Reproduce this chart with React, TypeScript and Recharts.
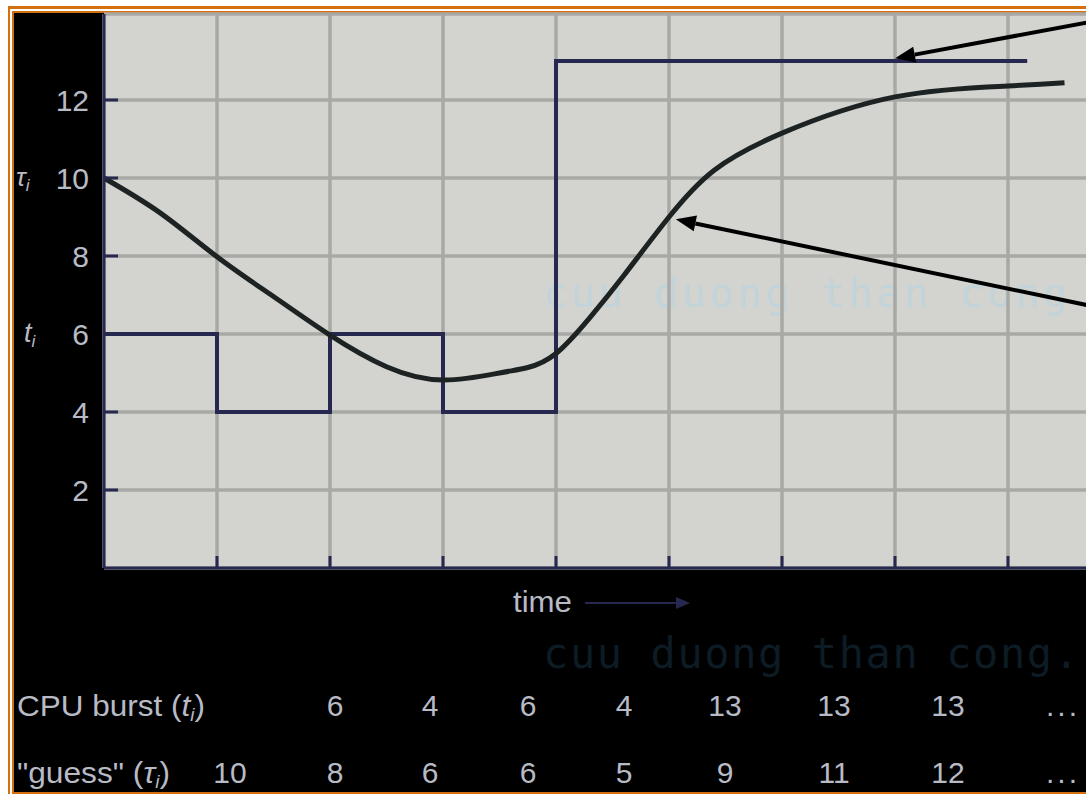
import React from 'react';
import {
  ComposedChart,
  Line,
  XAxis,
  YAxis,
  CartesianGrid,
  ReferenceLine,
} from 'recharts';

// values
const cpuBursts = [6, 4, 6, 4, 13, 13, 13];
const guesses = [10, 8, 6, 6, 5, 9, 11, 12];
const burstLineEnd = 8.17; // where the last 13-step stops

// smooth "guess" curve
const curveX = [0, 0.5, 1, 1.5, 2, 2.5, 3, 3.5, 3.75, 4, 4.3, 4.6, 5, 5.4, 6, 7, 8, 8.5];
const curveY = [10, 9.1, 7.98, 6.96, 5.97, 5.16, 4.82, 5.0, 5.14, 5.5, 6.42, 7.5, 9.0, 10.2, 11.15, 12.08, 12.36, 12.44];

const yTicks = [2, 4, 6, 8, 10, 12];
const xTicks = [0, 1, 2, 3, 4, 5, 6, 7, 8];

// layout
const W = 1086;
const H = 794;
const CHART_W = 1100;
const PLOT_LEFT = 104;
const PLOT_TOP = 14;
const PLOT_BOTTOM = 568;
const X_UNIT = 113;
const Y_UNIT = 39;
const X_MAX = (CHART_W - PLOT_LEFT) / X_UNIT;
const Y_MAX = (PLOT_BOTTOM - PLOT_TOP) / Y_UNIT;
const tableCols = [230, 335, 430, 528, 624, 725, 834, 948];
const dotsX = 1046;
const cpuRowY = 716;
const guessRowY = 783;

const ORANGE = '#d5700e';
const NAVY = '#26284f';
const TEXT = '#b8bbc6';
const FONT = '"Liberation Sans", Arial, sans-serif';
const MONO = '"DejaVu Sans Mono", monospace';

const stepData = [
  ...cpuBursts.map((v, i) => ({ x: i, y: v })),
  { x: burstLineEnd, y: cpuBursts[cpuBursts.length - 1] },
];
const curveData = curveX.map((x, i) => ({ x, y: curveY[i] }));

const YTick = (props: any) => {
  const { x, y, payload } = props;
  return (
    <g>
      <line x1={x} x2={x + 14} y1={y} y2={y} stroke={NAVY} strokeWidth={3} />
      <text x={x - 15} y={y + 11} textAnchor="end" fill={TEXT} fontFamily={FONT} fontSize={30}>
        {payload.value}
      </text>
    </g>
  );
};

const XTick = (props: any) => {
  const { x, y, payload } = props;
  if (payload.value === 0) return <g />;
  return <line x1={x} x2={x} y1={y} y2={y - 12} stroke={NAVY} strokeWidth={3} />;
};

const ArrowShape = (p: any) => {
  const { x1, y1, x2, y2 } = p;
  const a = Math.atan2(y2 - y1, x2 - x1);
  const len = 20;
  const half = 8;
  const bx = x2 - len * Math.cos(a);
  const by = y2 - len * Math.sin(a);
  const pts = [
    `${x2},${y2}`,
    `${bx - half * Math.sin(a)},${by + half * Math.cos(a)}`,
    `${bx + half * Math.sin(a)},${by - half * Math.cos(a)}`,
  ].join(' ');
  return (
    <g>
      <line x1={x1} y1={y1} x2={bx} y2={by} stroke="#000" strokeWidth={4} />
      <polygon points={pts} fill="#000" />
    </g>
  );
};

export default function App() {
  return (
    <div style={{ position: 'fixed', left: 0, top: 0, width: W, height: H, overflow: 'hidden', background: '#fff' }}>
      {/* double orange frame */}
      <div style={{ position: 'absolute', left: 8, top: 6, width: 1200, height: 900, background: ORANGE }} />
      <div style={{ position: 'absolute', left: 10, top: 9, width: 1200, height: 900, background: '#fff' }} />
      <div style={{ position: 'absolute', left: 12, top: 11, width: 1200, height: 900, background: ORANGE }} />
      <div style={{ position: 'absolute', left: 14, top: 13, width: 1200, height: 792 - 13, background: '#000' }} />

      <svg width={W} height={H} style={{ position: 'absolute', left: 0, top: 0 }}>
        <rect x={PLOT_LEFT} y={PLOT_TOP} width={CHART_W - PLOT_LEFT} height={PLOT_BOTTOM - PLOT_TOP} fill="#d3d3cf" />
        <rect x={PLOT_LEFT} y={PLOT_TOP - 1} width={CHART_W - PLOT_LEFT} height={2} fill="#2a2a40" />
        <text x={543} y={307} fill="#c2d3da" fontFamily={MONO} fontSize={40} textLength={524} lengthAdjust="spacing">
          cuu duong than cong
        </text>
        <text x={543} y={668} fill="#0c1b24" fontFamily={MONO} fontSize={42} textLength={536} lengthAdjust="spacing">
          cuu duong than cong.
        </text>

        {/* axis symbols */}
        <text x={16} y={186} fill={TEXT} fontFamily={FONT} fontSize={26} fontStyle="italic">
          τ<tspan fontSize={17} dy={5}>i</tspan>
        </text>
        <text x={24} y={342} fill={TEXT} fontFamily={FONT} fontSize={27} fontStyle="italic">
          t<tspan fontSize={17} dy={5}>i</tspan>
        </text>

        {/* time arrow */}
        <text x={513} y={612} fill={TEXT} fontFamily={FONT} fontSize={30} textLength={59} lengthAdjust="spacingAndGlyphs">time</text>
        <line x1={585} x2={678} y1={603} y2={603} stroke={NAVY} strokeWidth={2} />
        <polygon points="676,597 690,603 676,609" fill={NAVY} />

        {/* table */}
        <g fill={TEXT} fontFamily={FONT} fontSize={30}>
          <text x={17} y={cpuRowY} textLength={188} lengthAdjust="spacingAndGlyphs">
            CPU burst (<tspan fontStyle="italic">t</tspan>
            <tspan fontStyle="italic" fontSize={18} dy={5}>i</tspan>
            <tspan dy={-5}>)</tspan>
          </text>
          <text x={17} y={guessRowY} textLength={153} lengthAdjust="spacingAndGlyphs">
            &quot;guess&quot; (<tspan fontStyle="italic">τ</tspan>
            <tspan fontStyle="italic" fontSize={18} dy={5}>i</tspan>
            <tspan dy={-5}>)</tspan>
          </text>
          {cpuBursts.map((v, i) => (
            <text key={'c' + i} x={tableCols[i + 1]} y={cpuRowY} textAnchor="middle">{v}</text>
          ))}
          {guesses.map((v, i) => (
            <text key={'g' + i} x={tableCols[i]} y={guessRowY} textAnchor="middle">{v}</text>
          ))}
          <text x={dotsX} y={cpuRowY} letterSpacing={3}>...</text>
          <text x={dotsX} y={guessRowY} letterSpacing={3}>...</text>
        </g>
      </svg>

      <div style={{ position: 'absolute', left: 0, top: 0 }}>
        <ComposedChart width={CHART_W} height={H} margin={{ top: PLOT_TOP, right: 0, bottom: 196, left: 0 }}>
          <CartesianGrid stroke="#a8a9a5" strokeWidth={3.5} />
          <XAxis
            type="number"
            dataKey="x"
            domain={[0, X_MAX]}
            ticks={xTicks}
            allowDataOverflow
            height={30}
            tickSize={0}
            tickMargin={0}
            tickLine={false}
            tick={<XTick />}
            axisLine={{ stroke: NAVY, strokeWidth: 3 }}
          />
          <YAxis
            type="number"
            domain={[0, Y_MAX]}
            ticks={yTicks}
            allowDataOverflow
            width={PLOT_LEFT}
            tickSize={0}
            tickMargin={0}
            tickLine={false}
            tick={<YTick />}
            axisLine={{ stroke: NAVY, strokeWidth: 3 }}
          />
          <Line
            data={stepData}
            dataKey="y"
            type="stepAfter"
            stroke={NAVY}
            strokeWidth={4}
            dot={false}
            activeDot={false}
            isAnimationActive={false}
          />
          <Line
            data={curveData}
            dataKey="y"
            type="natural"
            stroke="#1d2322"
            strokeWidth={5}
            dot={false}
            activeDot={false}
            isAnimationActive={false}
          />
          <ReferenceLine segment={[{ x: 8.8, y: 14.04 }, { x: 7.0, y: 13.07 }]} shape={ArrowShape} />
          <ReferenceLine segment={[{ x: 8.8, y: 6.68 }, { x: 5.06, y: 8.94 }]} shape={ArrowShape} />
        </ComposedChart>
      </div>
    </div>
  );
}
